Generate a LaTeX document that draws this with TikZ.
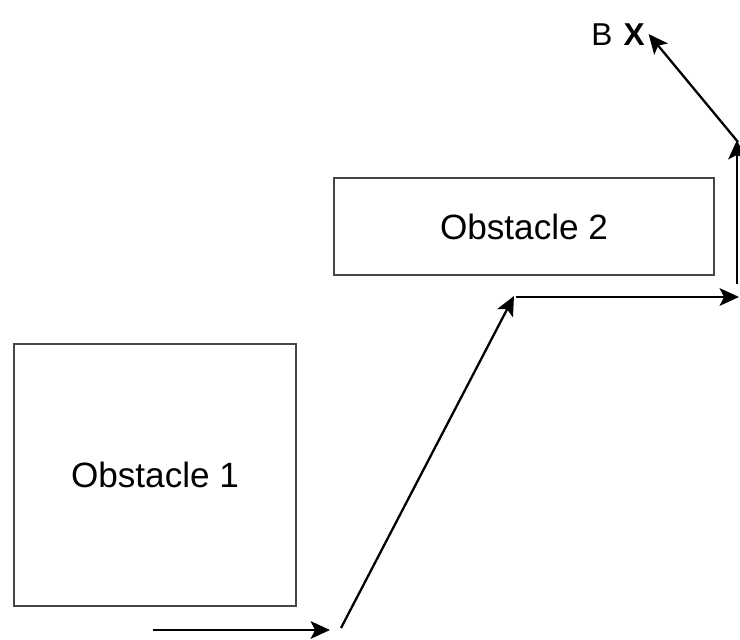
\documentclass[tikz,border=0pt]{standalone}
\usepackage{fontspec}
\setmainfont{Liberation Sans}
\usetikzlibrary{arrows.meta, positioning}
\definecolor{obsgray}{RGB}{70, 70, 70}

\begin{document}
\begin{tikzpicture}[
    x=0.02cm, y=-0.02cm,
    obstacle/.style={rectangle, draw=obsgray, line width=1.3pt, font=\fontsize{20}{24}\selectfont},
    goal/.style={inner sep=0pt, anchor=base west, font=\fontsize{18}{20}\selectfont},
    move/.style={line width=1.3pt, -{Stealth[length=11pt, width=10pt, inset=2.5pt]}}
]
\useasboundingbox (0,0) rectangle (740,639);

% === Obstaculos ===
\node[obstacle, minimum width=5.64cm, minimum height=5.24cm] (obs1) at (155,475) {Obstacle 1};
\node[obstacle, minimum width=7.6cm, minimum height=1.94cm] (obs2) at (524,226.5) {Obstacle 2};

% === Meta ===
\node[goal] (goalB) at (591,45) {B};
\node[goal, right=6pt of goalB.base east, anchor=base west] (goalX) {\bfseries X};

% === Camino ===
\coordinate (a0) at (153,630);
\coordinate (a1) at (330,630);
\coordinate (b0) at (341,628);
\coordinate (b1) at (514,296);
\coordinate (c0) at (516,297);
\coordinate (c1) at (739,297);
\coordinate (d0) at (737,284);
\coordinate (d1) at (737,140);
\coordinate (e0) at (738,142);

\draw[move] (a0) -- (a1);
\draw[move] (b0) -- (b1);
\draw[move] (c0) -- (c1);
\draw[move] (d0) -- (d1);
\draw[move] (e0) -- ([xshift=2pt]goalX.east);

\end{tikzpicture}
\end{document}
